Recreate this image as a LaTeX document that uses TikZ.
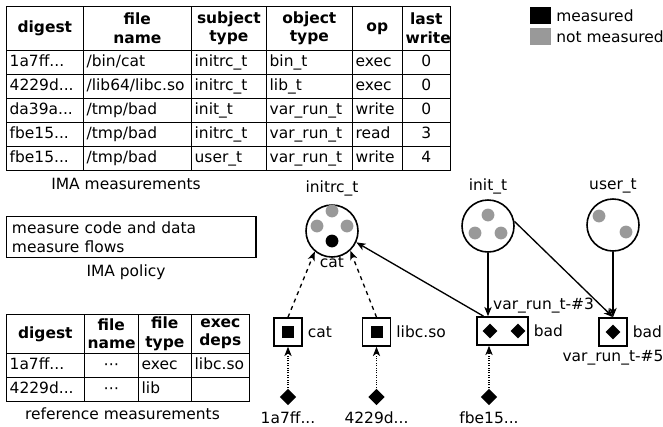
\documentclass[tikz,border=0pt]{standalone}
\usepackage{fontspec}
\setmainfont{DejaVu Sans}
\usetikzlibrary{positioning, matrix, shapes.geometric, arrows.meta}
\definecolor{notmeas}{RGB}{153,153,153}

\begin{document}
\begin{tikzpicture}[
	x=0.75pt, y=-0.75pt,
	font=\fontsize{11.6}{13.9}\selectfont,
	line width=1pt,
	>={Stealth[length=7pt, width=5.5pt, inset=2pt]},
	tcell/.style={draw, anchor=center, inner xsep=2.5pt, inner ysep=1pt, minimum height=18pt, text height=9pt, text depth=3pt, align=left},
	thead/.style={font=\fontsize{11.6}{13.9}\selectfont\bfseries, align=center, text height=, text depth=, minimum height=33pt},
	typecirc/.style={circle, draw, line width=1.2pt, minimum size=39pt},
	obj/.style={draw, line width=1.2pt, minimum size=21pt, inner sep=0pt},
	msq/.style={fill=black, inner sep=0pt, minimum size=9pt},
	mdiam/.style={diamond, fill=black, inner sep=0pt, minimum size=11.5pt},
	hashmark/.style={diamond, fill=black, inner sep=0pt, minimum size=12.75pt},
	legsq/.style={inner sep=0pt, minimum width=15.75pt, minimum height=12.75pt}
	]
	\useasboundingbox (0,0) rectangle (663,426);

	\matrix (imameas) [matrix of nodes, anchor=north west, inner sep=0pt, nodes={tcell},
		row sep=-\pgflinewidth, column sep=-\pgflinewidth,
		row 1/.style={nodes={thead}},
		column 1/.style={nodes={text width=52.75pt}},
		column 2/.style={nodes={text width=76pt}},
		column 3/.style={nodes={text width=51.25pt}},
		column 4/.style={nodes={text width=59.5pt}},
		column 5/.style={nodes={text width=32.5pt}},
		column 6/.style={nodes={text width=31pt, align=center}}
		] at (5,5) {
		digest & {file\\name} & {subject\\type} & {object\\type} & op & {last\\write} \\
		1a7ff... & /bin/cat & initrc\_t & bin\_t & exec & 0 \\
		4229d... & /lib64/libc.so & initrc\_t & lib\_t & exec & 0 \\
		da39a... & /tmp/bad & init\_t & var\_run\_t & write & 0 \\
		fbe15... & /tmp/bad & initrc\_t & var\_run\_t & read & 3 \\
		fbe15... & /tmp/bad & user\_t & var\_run\_t & write & 4 \\
	};
	\node (imacap) at (126,184) {IMA measurements};

	\node[draw, anchor=north west, text width=179pt, align=left, minimum height=30.75pt, inner xsep=4pt] (policy) at (6,216) {measure code and data\\measure flows};
	\node (polcap) at (126,272) {IMA policy};

	\matrix (refmeas) [matrix of nodes, anchor=north west, inner sep=0pt, nodes={tcell}, nodes in empty cells,
		row sep=-\pgflinewidth, column sep=-\pgflinewidth,
		row 1/.style={nodes={thead, minimum height=29.25pt}},
		column 1/.style={nodes={text width=53.5pt}},
		column 2/.style={nodes={text width=35.5pt, align=center}},
		column 3/.style={nodes={text width=34.75pt}},
		column 4/.style={nodes={text width=38.5pt}}
		] at (5,313) {
		digest & {file\\name} & {file\\type} & {exec\\deps} \\
		1a7ff... & ⋯ & exec & libc.so \\
		4229d... & ⋯ & lib & \\
	};
	\node (refcap) at (122.5,414) {reference measurements};

	\node[legsq, fill=black] (legmeas) at (540,15.5) {};
	\node[right=0pt of legmeas] (legmeaslab) {measured};
	\node[legsq, fill=notmeas] (legnot) at (540,36.5) {};
	\node[right=0pt of legnot] (legnotlab) {not measured};

	\node[typecirc] (initrc) at (332,231) {};
	\node[above=2pt of initrc] (initrclab) {initrc\_t};
	\node[below=-4.5pt of initrc] (initrccat) {cat};
	\foreach \dx/\dy in {0/-20, -15/-5, 15/-5}
		\fill[notmeas] (initrc) ++(\dx,\dy) circle (4.8pt);
	\fill (initrc) ++(0,10) circle (4.8pt);
	\node[typecirc] (init) at (488,226) {};
	\node[above=0pt of init] (initlab) {init\_t};
	\foreach \dx/\dy in {0/-11, -13/7, 13/7}
		\fill[notmeas] (init) ++(\dx,\dy) circle (4.8pt);
	\node[typecirc] (user) at (613,225) {};
	\node[above=0pt of user] (userlab) {user\_t};
	\foreach \dx/\dy in {-14/-9, 13/7}
		\fill[notmeas] (user) ++(\dx,\dy) circle (4.8pt);

	\node[obj] (catbox) at (288,332) {};
	\node[msq] (catmark) at (catbox) {};
	\node[right=0pt of catbox] (catlab) {cat};
	\node[obj] (libcbox) at (376.5,332) {};
	\node[msq] (libcmark) at (libcbox) {};
	\node[right=0pt of libcbox] (libclab) {libc.so};
	\node[obj, minimum width=38.25pt] (bada) at (502.5,331) {};
	\node[mdiam] (bada1) at (490,331) {};
	\node[mdiam] (bada2) at (518,331) {};
	\node[right=0pt of bada] (badalab) {bad};
	\node[obj] (badb) at (613,332) {};
	\node[mdiam] (badb1) at (badb) {};
	\node[right=0pt of badb] (badblab) {bad};
	\node[below=-1pt of badb] (badbrun) {var\_run\_t-\#5};

	\node[hashmark] (dcat) at (288,397) {};
	\node[below=0pt of dcat] (dcatlab) {1a7ff...};
	\node[hashmark] (dlibc) at (376.5,397) {};
	\node[below=0pt of dlibc] (dlibclab) {4229d...};
	\node[hashmark] (dbad) at (489,397) {};
	\node[below=0pt of dbad] (dbadlab) {fbe15...};

	\draw[->, densely dotted, line width=0.8pt] (dcat) -- (catbox);
	\draw[->, densely dotted, line width=0.8pt] (dlibc) -- (libcbox);
	\draw[->, densely dotted, line width=0.8pt] (dbad) -- (dbad |- bada.south);
	\draw[->, dashed] (catbox.north) -- (initrc.230);
	\draw[->, dashed] (libcbox.north) -- (initrc.-47);
	\draw[->] (bada.142) -- (initrc.-25);
	\coordinate (runa) at (init |- bada.north);
	\draw[->] (init) -- (runa);
	\node[above right=-1.5pt and 0pt of runa] (runalab) {var\_run\_t-\#3};
	\draw[->] (init.10) -- (badb.north);
	\draw[->] (user) -- (user |- badb.north);
\end{tikzpicture}
\end{document}
